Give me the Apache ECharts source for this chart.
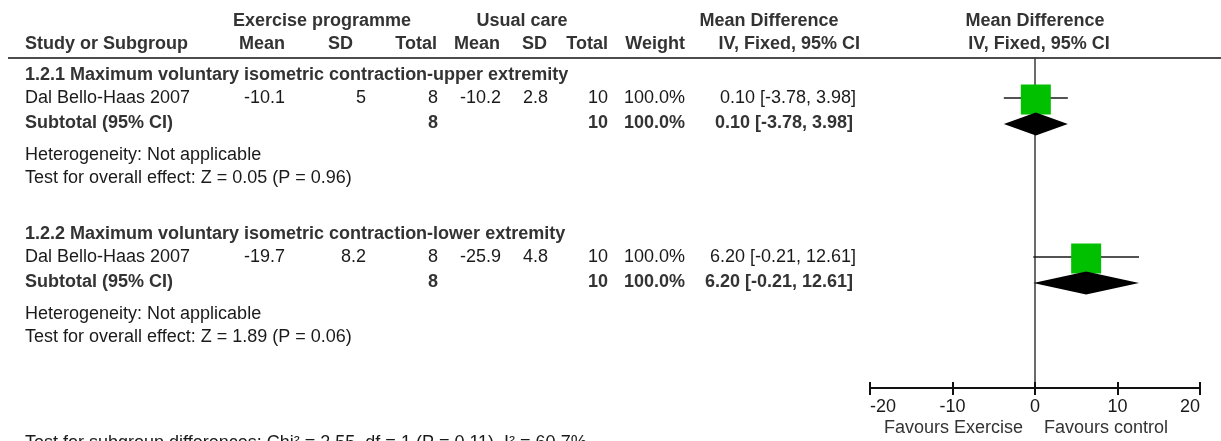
<!DOCTYPE html>
<html>
<head>
<meta charset="utf-8">
<style>
  html, body { margin: 0; padding: 0; background: #fff; }
  #chart { width: 1221px; height: 441px; }
</style>
<script src="https://cdn.jsdelivr.net/npm/echarts@6/dist/echarts.min.js"></script>
</head>
<body>
<div id="chart"></div>
<script>
// ---- Study data ----
const groupTitles = [
  '1.2.1 Maximum voluntary isometric contraction-upper extremity',
  '1.2.2 Maximum voluntary isometric contraction-lower extremity'
];
const studyNames = ['Dal Bello-Haas 2007', 'Dal Bello-Haas 2007'];
const expMean = [-10.1, -19.7];
const expSD = [5, 8.2];
const expTotal = [8, 8];
const ctlMean = [-10.2, -25.9];
const ctlSD = [2.8, 4.8];
const ctlTotal = [10, 10];
const weights = [100.0, 100.0];
const meanDiff = [0.10, 6.20];
const ciLow = [-3.78, -0.21];
const ciHigh = [3.98, 12.61];

// ---- Subgroup totals ----
const subExpTotal = [8, 8];
const subCtlTotal = [10, 10];
const subWeight = [100.0, 100.0];
const subMeanDiff = [0.10, 6.20];
const subLow = [-3.78, -0.21];
const subHigh = [3.98, 12.61];
const heterogeneity = ['Not applicable', 'Not applicable'];
const zValues = [0.05, 1.89];
const pValues = [0.96, 0.06];

// ---- Test for subgroup differences ----
const diffChi2 = 2.55;
const diffDf = 1;
const diffP = 0.11;
const diffI2 = 60.7;

// ---- Axis ----
const axisTicks = [-20, -10, 0, 10, 20];
const favoursLeft = 'Favours Exercise';
const favoursRight = 'Favours control';

// ---- Layout (pixels) ----
const FONT = '"Liberation Sans", Arial, sans-serif';
const FS = 18;
const PLOT = { left: 870, top: 58, width: 330, height: 330 };
const COL = {
  name: 25, expMean: 285, expSD: 366, expTotal: 438,
  ctlMean: 501, ctlSD: 548, ctlTotal: 608, weight: 685, ci: 856
};
const HEADER1_Y = 21, HEADER2_Y = 44, RULE_Y = 58;
// vertical offsets of each block's lines relative to its heading line
const BLOCK_TOP = [75, 234];
const OFF = { study: 23, subtotal: 48, het: 80, test: 103 };
const BOTTOM_Y = 443;
const SQUARE_MAX = 30;
const DIAMOND_HALF = 11.5;

const BOLD_COLOR = '#333';
const TEXT_COLOR = '#1a1a1a';

function txt(x, y, text, opts) {
  opts = opts || {};
  const bold = !!opts.bold;
  const align = opts.align || 'left';
  return {
    type: 'text', x: x, y: y, silent: true,
    style: {
      text: text,
      font: (bold ? 'bold ' : '') + (opts.size || FS) + 'px ' + FONT,
      fill: opts.color || (bold ? BOLD_COLOR : TEXT_COLOR),
      align: align, verticalAlign: 'middle',
      textAlign: align, textVerticalAlign: 'middle'
    }
  };
}

const fmtCI = (m, l, h) => m.toFixed(2) + ' [' + l.toFixed(2) + ', ' + h.toFixed(2) + ']';

const graphics = [];
// header block
graphics.push(txt(322, HEADER1_Y, 'Exercise programme', { bold: true, align: 'center' }));
graphics.push(txt(522, HEADER1_Y, 'Usual care', { bold: true, align: 'center' }));
graphics.push(txt(769, HEADER1_Y, 'Mean Difference', { bold: true, align: 'center' }));
graphics.push(txt(1035, HEADER1_Y, 'Mean Difference', { bold: true, align: 'center' }));
graphics.push(txt(COL.name, HEADER2_Y, 'Study or Subgroup', { bold: true }));
graphics.push(txt(COL.expMean, HEADER2_Y, 'Mean', { bold: true, align: 'right' }));
graphics.push(txt(353, HEADER2_Y, 'SD', { bold: true, align: 'right' }));
graphics.push(txt(437, HEADER2_Y, 'Total', { bold: true, align: 'right' }));
graphics.push(txt(500, HEADER2_Y, 'Mean', { bold: true, align: 'right' }));
graphics.push(txt(547, HEADER2_Y, 'SD', { bold: true, align: 'right' }));
graphics.push(txt(COL.ctlTotal, HEADER2_Y, 'Total', { bold: true, align: 'right' }));
graphics.push(txt(COL.weight, HEADER2_Y, 'Weight', { bold: true, align: 'right' }));
graphics.push(txt(860, HEADER2_Y, 'IV, Fixed, 95% CI', { bold: true, align: 'right' }));
graphics.push(txt(1039, HEADER2_Y, 'IV, Fixed, 95% CI', { bold: true, align: 'center' }));
graphics.push({
  type: 'line', silent: true,
  shape: { x1: 8, y1: RULE_Y, x2: 1221, y2: RULE_Y },
  style: { stroke: '#111', lineWidth: 1.5 }
});

// subgroup blocks
const customData = [];
groupTitles.forEach((title, g) => {
  const top = BLOCK_TOP[g];
  const ys = top + OFF.study, ysub = top + OFF.subtotal;
  graphics.push(txt(COL.name, top, title, { bold: true }));
  graphics.push(txt(COL.name, ys, studyNames[g]));
  graphics.push(txt(COL.expMean, ys, String(expMean[g]), { align: 'right' }));
  graphics.push(txt(COL.expSD, ys, String(expSD[g]), { align: 'right' }));
  graphics.push(txt(COL.expTotal, ys, String(expTotal[g]), { align: 'right' }));
  graphics.push(txt(COL.ctlMean, ys, String(ctlMean[g]), { align: 'right' }));
  graphics.push(txt(COL.ctlSD, ys, String(ctlSD[g]), { align: 'right' }));
  graphics.push(txt(COL.ctlTotal, ys, String(ctlTotal[g]), { align: 'right' }));
  graphics.push(txt(COL.weight, ys, weights[g].toFixed(1) + '%', { align: 'right' }));
  graphics.push(txt(COL.ci, ys, fmtCI(meanDiff[g], ciLow[g], ciHigh[g]), { align: 'right' }));

  graphics.push(txt(COL.name, ysub, 'Subtotal (95% CI)', { bold: true }));
  graphics.push(txt(COL.expTotal, ysub, String(subExpTotal[g]), { bold: true, align: 'right' }));
  graphics.push(txt(COL.ctlTotal, ysub, String(subCtlTotal[g]), { bold: true, align: 'right' }));
  graphics.push(txt(COL.weight, ysub, subWeight[g].toFixed(1) + '%', { bold: true, align: 'right' }));
  graphics.push(txt(COL.ci - 3, ysub, fmtCI(subMeanDiff[g], subLow[g], subHigh[g]), { bold: true, align: 'right' }));

  graphics.push(txt(COL.name, top + OFF.het, 'Heterogeneity: ' + heterogeneity[g]));
  graphics.push(txt(COL.name, top + OFF.test,
    'Test for overall effect: Z = ' + zValues[g].toFixed(2) + ' (P = ' + pValues[g].toFixed(2) + ')'));

  // marks: y given in plot-relative pixels on the hidden vertical scale
  customData.push([meanDiff[g], ciLow[g], ciHigh[g], ys - PLOT.top, 0, weights[g]]);
  customData.push([subMeanDiff[g], subLow[g], subHigh[g], ysub + 1 - PLOT.top, 1, subWeight[g]]);
});

graphics.push(txt(1023, 428, favoursLeft, { align: 'right', color: '#333' }));
graphics.push(txt(1044, 428, favoursRight, { align: 'left', color: '#333' }));
graphics.push(txt(COL.name, BOTTOM_Y,
  'Test for subgroup differences: Chi\u00b2 = ' + diffChi2.toFixed(2) + ', df = ' + diffDf +
  ' (P = ' + diffP.toFixed(2) + '), I\u00b2 = ' + diffI2.toFixed(1) + '%'));

const chart = echarts.init(document.getElementById('chart'), null, { renderer: 'canvas' });

const xMin = axisTicks[0], xMax = axisTicks[axisTicks.length - 1];
const xStep = axisTicks[1] - axisTicks[0];

chart.setOption({
  animation: false,
  backgroundColor: '#fff',
  grid: { left: PLOT.left, top: PLOT.top, width: PLOT.width, height: PLOT.height, containLabel: false },
  xAxis: [{
    type: 'value', min: xMin, max: xMax, interval: xStep, position: 'bottom',
    axisLine: { show: true, onZero: false, lineStyle: { color: '#111', width: 2 } },
    axisTick: { show: true, length: 7, inside: false, lineStyle: { color: '#111', width: 2 } },
    axisLabel: {
      show: true, fontSize: FS, fontFamily: FONT, color: TEXT_COLOR, margin: 10,
      alignMinLabel: 'left', alignMaxLabel: 'right'
    },
    splitLine: { show: false }
  }, {
    type: 'value', min: xMin, max: xMax, interval: xStep, position: 'bottom',
    axisLine: { show: false, onZero: false },
    axisTick: { show: true, length: 6, inside: true, lineStyle: { color: '#111', width: 2 } },
    axisLabel: { show: false },
    splitLine: { show: false }
  }],
  yAxis: {
    type: 'value', min: 0, max: PLOT.height, inverse: true,
    axisLine: { show: true, onZero: true, onZeroAxisIndex: 0, lineStyle: { color: '#3a3a3a', width: 1.5 } },
    axisTick: { show: false }, axisLabel: { show: false }, splitLine: { show: false }
  },
  series: [{
    type: 'custom',
    xAxisIndex: 0, yAxisIndex: 0,
    clip: false,
    data: customData,
    renderItem: function (params, api) {
      const md = api.value(0), lo = api.value(1), hi = api.value(2);
      const y = api.value(3), kind = api.value(4), w = api.value(5);
      const pL = api.coord([lo, y]), pR = api.coord([hi, y]), pM = api.coord([md, y]);
      if (kind === 0) {
        const s = SQUARE_MAX * Math.sqrt(w / 100);
        return {
          type: 'group',
          children: [{
            type: 'line',
            shape: { x1: pL[0], y1: pL[1], x2: pR[0], y2: pR[1] },
            style: { stroke: '#1a1a1a', lineWidth: 1.5 }
          }, {
            type: 'rect',
            shape: { x: pM[0] - s / 2, y: pM[1] - s / 2 + 1.5, width: s, height: s },
            style: { fill: '#00c000' }
          }]
        };
      }
      return {
        type: 'polygon',
        shape: { points: [[pL[0], pM[1]], [pM[0], pM[1] - DIAMOND_HALF], [pR[0], pM[1]], [pM[0], pM[1] + DIAMOND_HALF]] },
        style: { fill: '#000' }
      };
    }
  }],
  graphic: { elements: graphics }
});
</script>
</body>
</html>
